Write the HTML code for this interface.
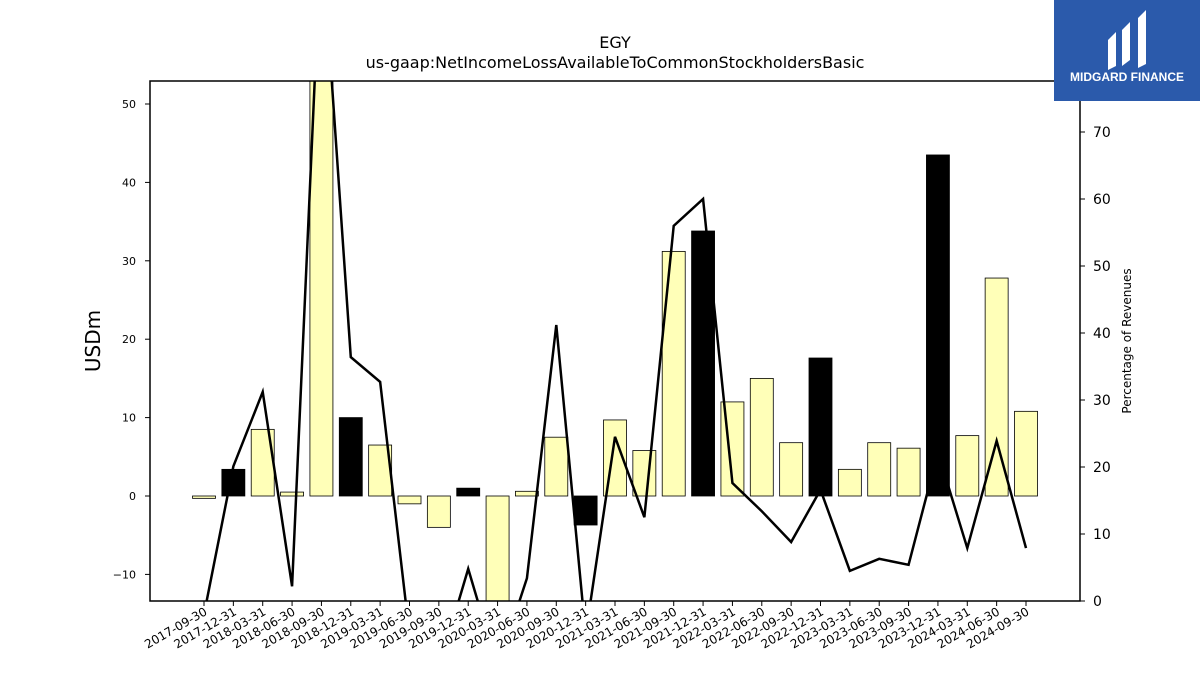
<!DOCTYPE html>
<html><head><meta charset="utf-8"><style>
html,body{margin:0;padding:0;background:#fff;width:1200px;height:675px;overflow:hidden;font-family:"Liberation Sans","DejaVu Sans",sans-serif}
</style></head><body>
<svg id="chart" width="1200" height="675" xmlns="http://www.w3.org/2000/svg" font-family="DejaVu Sans, Liberation Sans, sans-serif">
<defs><clipPath id="plotclip"><rect x="150" y="81" width="930" height="520"/></clipPath></defs>
<text x="615" y="48" text-anchor="middle" font-size="16">EGY</text>
<text x="615" y="68" text-anchor="middle" font-size="16">us-gaap:NetIncomeLossAvailableToCommonStockholdersBasic</text>
<g id="bars" clip-path="url(#plotclip)"></g>
<g id="line" clip-path="url(#plotclip)"></g>
<rect x="150" y="81" width="930" height="520" fill="none" stroke="#000" stroke-width="1.5"/>
<g id="axes"></g>
<text transform="translate(100,341) rotate(-90)" text-anchor="middle" font-size="20">USDm</text>
<text transform="translate(1131,341) rotate(-90)" text-anchor="middle" font-size="12">Percentage of Revenues</text>
<g>
<rect x="1054" y="0" width="146" height="101" fill="#2b5aab"/>
<path d="M1108 40 L1116 32 L1116 66 L1108 70 Z M1122 30 L1130 22 L1130 60 L1122 66 Z M1138 18 L1146 10 L1146 64 L1138 68 Z" fill="#fff"/>
<text x="1127" y="81" text-anchor="middle" font-size="12" font-weight="bold" fill="#fff" font-family="Liberation Sans, sans-serif">MIDGARD FINANCE</text>
</g>
</svg>
<script>
const categories=["2017-09-30","2017-12-31","2018-03-31","2018-06-30","2018-09-30","2018-12-31","2019-03-31","2019-06-30","2019-09-30","2019-12-31","2020-03-31","2020-06-30","2020-09-30","2020-12-31","2021-03-31","2021-06-30","2021-09-30","2021-12-31","2022-03-31","2022-06-30","2022-09-30","2022-12-31","2023-03-31","2023-06-30","2023-09-30","2023-12-31","2024-03-31","2024-06-30","2024-09-30"];
const netIncome=[-0.3,3.4,8.5,0.5,60,10,6.5,-1,-4,1,-20,0.6,7.5,-3.7,9.7,5.8,31.2,33.8,12,15,6.8,17.6,3.4,6.8,6.1,43.5,7.7,27.8,10.8];
const pctRevenue=[-2,20.1,31.2,2.2,100,36.4,32.7,-5,-10,4.8,-10,3.4,41.2,-5,24.5,12.5,56,60,17.6,13.4,8.8,16.6,4.5,6.3,5.4,22.2,7.9,23.9,7.9];
const leftTicks=[-10,0,10,20,30,40,50];
const rightTicks=[0,10,20,30,40,50,60,70];
const NS="http://www.w3.org/2000/svg";
const x=i=>204+i*(822/28);
const yL=v=>496-v*7.84;
const yR=v=>601-v*6.7;
function mk(tag,attrs,parent){const e=document.createElementNS(NS,tag);for(const k in attrs)e.setAttribute(k,attrs[k]);parent.appendChild(e);return e;}
const bars=document.getElementById('bars'),line=document.getElementById('line'),axes=document.getElementById('axes');
netIncome.forEach((v,i)=>{
  const q4=categories[i].endsWith('12-31');
  const y0=yL(0),y1=yL(v);
  const r=mk('rect',{x:x(i)-11.5,y:Math.min(y0,y1),width:23,height:Math.max(Math.abs(y1-y0),1),fill:q4?'#000':'#ffffb8',stroke:'#000','stroke-width':0.8},bars);
  
  
});
const p=mk('polyline',{points:pctRevenue.map((v,i)=>x(i)+','+yR(v)).join(' '),fill:'none',stroke:'#000','stroke-width':2.5},line);


leftTicks.forEach(t=>{
  const y=yL(t);
  const l=mk('line',{x1:145,x2:150,y1:y,y2:y,stroke:'#000'},axes);
  
  
  const tx=mk('text',{x:136,y:y+4,'text-anchor':'end','font-size':11},axes);
  
  
  tx.textContent=t===-10?'\u221210':t;
});
rightTicks.forEach(t=>{
  const y=yR(t);
  const l=mk('line',{x1:1080,x2:1085,y1:y,y2:y,stroke:'#000'},axes);
  
  
  const tx=mk('text',{x:1093,y:y+5,'font-size':14},axes);
  
  
  tx.textContent=t;
});
categories.forEach((c,i)=>{
  const l=mk('line',{x1:x(i),x2:x(i),y1:601,y2:606,stroke:'#000'},axes);
  
  
  const tx=mk('text',{transform:`translate(${x(i)+4},${614}) rotate(-30)`,'text-anchor':'end','font-size':12},axes);
  
  
  tx.textContent=c;
});
</script>
</body></html>
